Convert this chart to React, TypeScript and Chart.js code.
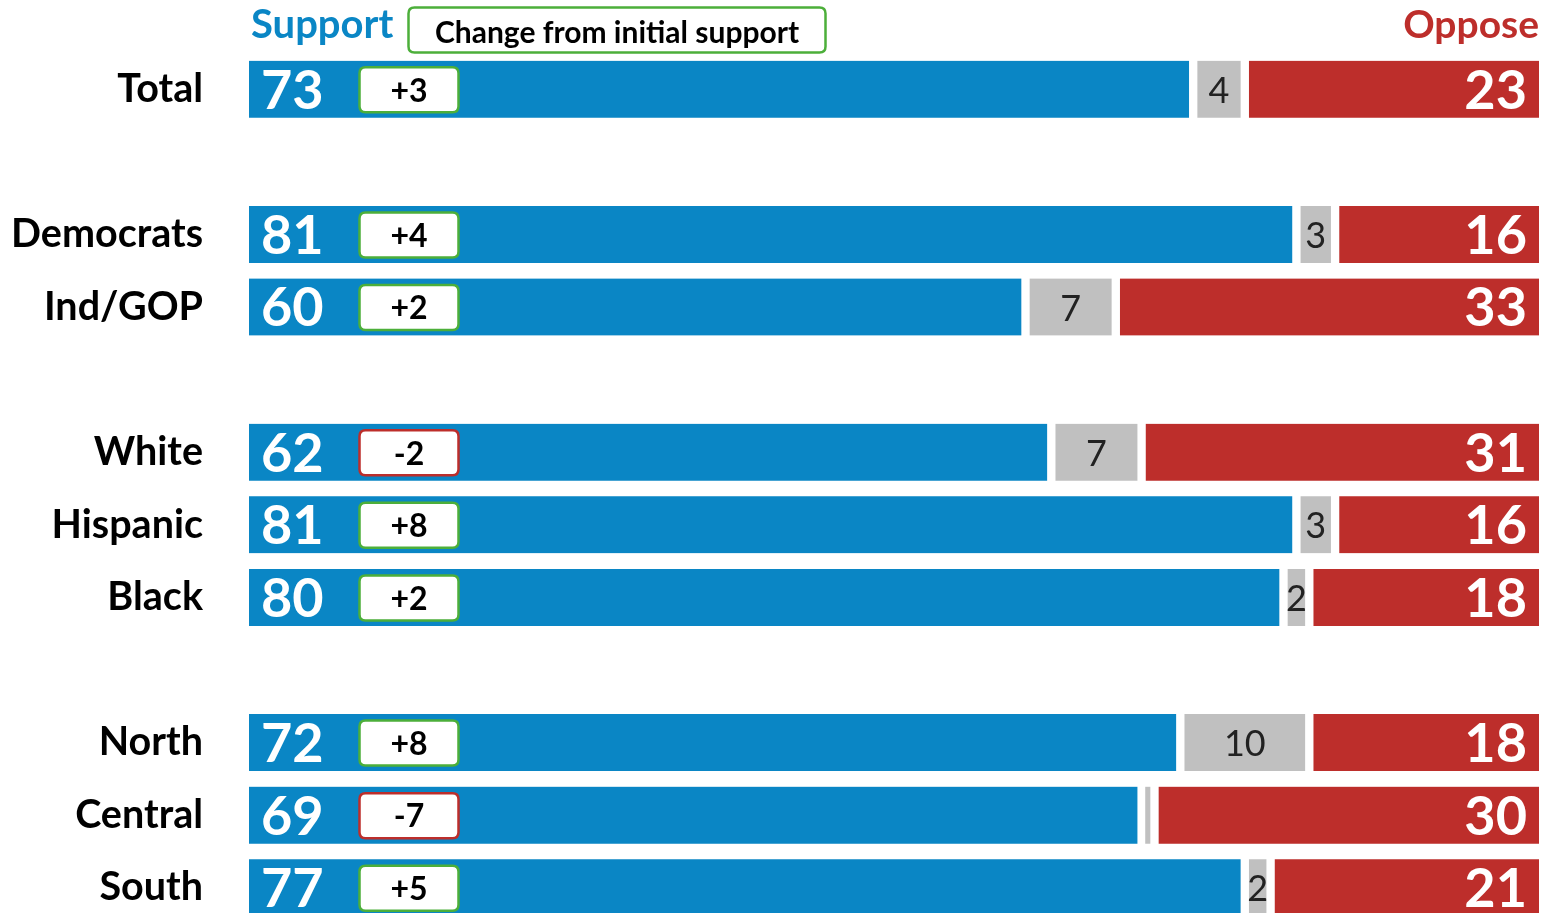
import React, { useEffect, useRef } from "react";
import { Chart, registerables } from "chart.js";

Chart.register(...registerables);

const categories = ["Total", "", "Democrats", "Ind/GOP", "", "White", "Hispanic", "Black", "", "North", "Central", "South"];
const support = [73, null, 81, 60, null, 62, 81, 80, null, 72, 69, 77];
const neutral = [4, null, 3, 7, null, 7, 3, 2, null, 10, 1, 2];
const oppose = [23, null, 16, 33, null, 31, 16, 18, null, 18, 30, 21];
const change = [3, null, 4, 2, null, -2, 8, 2, null, 8, -7, 5];

const BLUE = "#0a86c5";
const GRAY = "#c0c0c0";
const RED = "#bd2e2b";
const GREEN = "#4caf3a";
const FONT = "Lato, 'Open Sans', sans-serif";

function roundRect(ctx: CanvasRenderingContext2D, x: number, y: number, w: number, h: number, r: number) {
  ctx.beginPath();
  ctx.moveTo(x + r, y);
  ctx.lineTo(x + w - r, y);
  ctx.quadraticCurveTo(x + w, y, x + w, y + r);
  ctx.lineTo(x + w, y + h - r);
  ctx.quadraticCurveTo(x + w, y + h, x + w - r, y + h);
  ctx.lineTo(x + r, y + h);
  ctx.quadraticCurveTo(x, y + h, x, y + h - r);
  ctx.lineTo(x, y + r);
  ctx.quadraticCurveTo(x, y, x + r, y);
  ctx.closePath();
}

const labelPlugin = {
  id: "labels",
  afterDatasetsDraw(chart: any) {
    const ctx: CanvasRenderingContext2D = chart.ctx;
    const yScale = chart.scales.y;
    const area = chart.chartArea;
    const mS = chart.getDatasetMeta(0);
    const mN = chart.getDatasetMeta(1);
    const mO = chart.getDatasetMeta(2);
    ctx.save();
    ctx.textBaseline = "middle";

    // header
    ctx.font = `bold 40px ${FONT}`;
    ctx.fillStyle = BLUE;
    ctx.textAlign = "left";
    ctx.fillText("Support", area.left + 2, 25);
    ctx.font = `bold 39px ${FONT}`;
    ctx.fillStyle = RED;
    ctx.textAlign = "right";
    ctx.fillText("Oppose", area.right, 25);
    roundRect(ctx, 408.5, 7.5, 417, 45, 6);
    ctx.fillStyle = "#fff";
    ctx.fill();
    ctx.lineWidth = 2.5;
    ctx.strokeStyle = GREEN;
    ctx.stroke();
    ctx.fillStyle = "#000";
    ctx.textAlign = "center";
    ctx.font = `bold 30px ${FONT}`;
    ctx.fillText("Change from initial support", 617, 33);

    categories.forEach((cat, i) => {
      if (support[i] == null) return;
      const y = yScale.getPixelForValue(i);
      // category label
      ctx.font = `bold 39.5px ${FONT}`;
      ctx.fillStyle = "#000";
      ctx.textAlign = "right";
      ctx.fillText(cat, 203, y);

      // support value
      const sb = mS.data[i];
      ctx.font = `bold 54px ${FONT}`;
      ctx.fillStyle = "#fff";
      ctx.textAlign = "left";
      ctx.fillText(String(support[i]), sb.base + 12, y + 2);

      // change box
      const c = change[i] as number;
      roundRect(ctx, 359.5, y - 22, 99, 45, 6);
      ctx.fillStyle = "#fff";
      ctx.fill();
      ctx.lineWidth = 2.5;
      ctx.strokeStyle = c >= 0 ? GREEN : RED;
      ctx.stroke();
      ctx.fillStyle = "#000";
      ctx.textAlign = "center";
      ctx.font = `bold 32px ${FONT}`;
      ctx.fillText((c > 0 ? "+" : "") + c, 409, y + 2);

      // neutral value
      const nv = neutral[i] as number;
      if (nv >= 2) {
        const nb = mN.data[i];
        const cx = (nb.base + 7 + nb.x - 2) / 2;
        ctx.font = `36px ${FONT}`;
        ctx.fillStyle = "#222";
        ctx.textAlign = "center";
        ctx.fillText(String(nv), cx, y + 2);
      }

      // oppose value
      const ob = mO.data[i];
      ctx.font = `bold 54px ${FONT}`;
      ctx.fillStyle = "#fff";
      ctx.textAlign = "right";
      ctx.fillText(String(oppose[i]), ob.x - 12, y + 2);
    });
    ctx.restore();
  },
};

export default function App() {
  const ref = useRef<HTMLCanvasElement>(null);
  useEffect(() => {
    if (!ref.current) return;
    const chart = new Chart(ref.current, {
      type: "bar",
      data: {
        labels: categories,
        datasets: [
          {
            label: "Support",
            data: support,
            backgroundColor: BLUE,
            borderColor: "#fff",
            borderWidth: { top: 0, bottom: 0, left: 0, right: 2 },
            borderSkipped: false,
            barThickness: 57,
          },
          {
            label: "No opinion",
            data: neutral,
            backgroundColor: GRAY,
            borderColor: "#fff",
            borderWidth: { top: 0, bottom: 0, left: 7, right: 2 },
            borderSkipped: false,
            barThickness: 57,
          },
          {
            label: "Oppose",
            data: oppose,
            backgroundColor: RED,
            borderColor: "#fff",
            borderWidth: { top: 0, bottom: 0, left: 7, right: 0 },
            borderSkipped: false,
            barThickness: 57,
          },
        ],
      } as any,
      options: {
        indexAxis: "y",
        animation: false,
        responsive: false,
        maintainAspectRatio: false,
        layout: { padding: { left: 249, right: 10, top: 53, bottom: 6 } },
        scales: {
          x: { stacked: true, min: 0, max: 100, display: false },
          y: { stacked: true, display: false },
        },
        plugins: { legend: { display: false }, tooltip: { enabled: false } },
      } as any,
      plugins: [labelPlugin],
    });
    return () => chart.destroy();
  }, []);
  return (
    <div style={{ position: "fixed", left: 0, top: 0, width: 1549, height: 913, overflow: "hidden", background: "#fff" }}>
      <canvas ref={ref} width={1549} height={930} style={{ display: "block" }} />
    </div>
  );
}
